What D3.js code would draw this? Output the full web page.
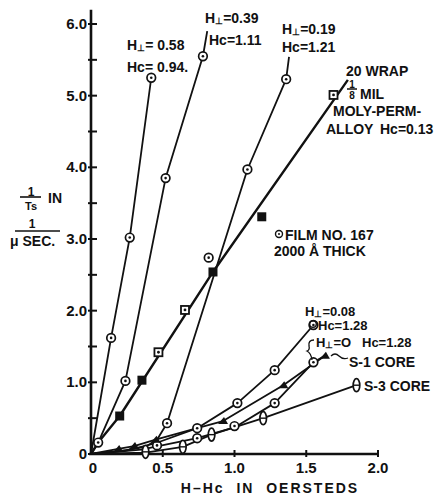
<!DOCTYPE html>
<html><head><meta charset="utf-8">
<script src="https://cdn.jsdelivr.net/npm/d3@7"></script>
<style>
html,body{margin:0;padding:0;background:#fff;}
svg text{font-family:"Liberation Sans",Arial,sans-serif;font-weight:bold;fill:#111;white-space:pre;}
</style></head>
<body><svg id="c" width="437" height="502"></svg>
<script>
// ---- axis ticks ----
const yMajor = [0,1,2,3,4,5,6];
const yLabels = ["0","1.0","2.0","3.0","4.0","5.0","6.0"];
const yMinor = [0.5,1.5,2.5,3.5,4.5,5.5];
const xTicks = [0,0.5,1,1.5,2];
const xLabels = ["0","0.5","1.0","1.5","2.0"];

// ---- series: line vertices and markers ([H-Hc, 1/Ts]) ----
const h058Line = [[0,0],[0.14,1.62],[0.27,3.02],[0.42,5.25]];
const h058Pts  = [[0.14,1.62],[0.27,3.02],[0.42,5.25]];
const h039Line = [[0,0],[0.05,0.16],[0.24,1.02],[0.52,3.85],[0.78,5.55],[0.81,5.9]];
const h039Pts  = [[0.05,0.16],[0.24,1.02],[0.52,3.85],[0.78,5.55]];
const h019Line = [[0,0],[0.2,0.04],[0.38,0.1],[0.46,0.2],[0.53,0.43],[1.09,3.97],[1.36,5.23],[1.38,5.54]];
const h019Pts  = [[0.53,0.43],[0.82,2.74],[1.09,3.97],[1.36,5.23]];
const molyLine = [[0,0],[0.05,0.16],[0.20,0.53],[0.85,2.54],[1.79,5.22]];
const molyFilled = [[0.20,0.53],[0.355,1.03],[0.85,2.54],[1.19,3.31]];
const molyOpen   = [[0.47,1.42],[0.655,2.01],[1.69,5.01]];
const h008Line = [[0,0],[0.25,0.05],[0.45,0.15],[0.74,0.36],[1.02,0.71],[1.28,1.17],[1.55,1.80]];
const h008Pts  = [[0.74,0.36],[1.02,0.71],[1.28,1.17],[1.55,1.80]];
const s1Line = [[0,0],[0.19,0.07],[0.3,0.11],[0.45,0.2],[0.74,0.36],[0.92,0.46],[1.34,0.96],[1.63,1.37]];
const s1Pts  = [[0.19,0.07],[0.3,0.11],[0.45,0.2],[0.92,0.46],[1.34,0.96],[1.63,1.37]];
const h0Line = [[0,0],[0.35,0.06],[0.74,0.22],[1.0,0.37],[1.28,0.71],[1.55,1.28],[1.63,1.37]];
const h0Pts  = [[0.46,0.12],[0.74,0.22],[1.0,0.39],[1.28,0.71],[1.55,1.28]];
const s3Line = [[0,0],[0.38,0.02],[0.64,0.1],[0.84,0.27],[1.2,0.5],[1.85,0.96]];
const s3Pts  = [[0.38,0.03],[0.64,0.1],[0.84,0.27],[1.2,0.5],[1.85,0.96]];

const svg = d3.select("#c");
const x = d3.scaleLinear().domain([0,2]).range([91,378]);
const y = d3.scaleLinear().domain([0,6]).range([454,24]);
const line = d3.line().x(d=>x(d[0])).y(d=>y(d[1]));

// axes
svg.append("line").attr("x1",x(0)).attr("x2",x(0)).attr("y1",y(0)+1).attr("y2",y(6.2))
  .attr("stroke","#111").attr("stroke-width",2.6);
svg.append("line").attr("x1",x(0)-2).attr("x2",x(2)).attr("y1",y(0)).attr("y2",y(0))
  .attr("stroke","#111").attr("stroke-width",2.6);
svg.selectAll(".ytk").data(yMajor.concat(yMinor)).enter().append("line")
  .attr("x1",x(0)-3).attr("x2",x(0)+6).attr("y1",d=>y(d)).attr("y2",d=>y(d))
  .attr("stroke","#111").attr("stroke-width",2);
svg.selectAll(".xtk").data(xTicks.slice(1)).enter().append("line")
  .attr("x1",d=>x(d)).attr("x2",d=>x(d)).attr("y1",y(0)-4).attr("y2",y(0)+3)
  .attr("stroke","#111").attr("stroke-width",2);
svg.selectAll(".ylb").data(yMajor).enter().append("text")
  .attr("x",x(0)-4).attr("y",d=>y(d)+5).attr("text-anchor","end")
  .attr("font-size",15).text((d,i)=>yLabels[i]);
svg.selectAll(".xlb").data(xTicks).enter().append("text")
  .attr("x",d=>x(d)+(d===0?2:0)).attr("y",y(0)+19).attr("text-anchor","middle")
  .attr("font-size",15).text((d,i)=>xLabels[i]);
svg.append("text").attr("x",270).attr("y",493).attr("text-anchor","middle")
  .attr("font-size",14).attr("letter-spacing",2).text("H\u2013Hc  IN  OERSTEDS");

// y label
const yl = svg.append("g");
yl.append("text").attr("x",31).attr("y",196).attr("font-size",12).attr("text-anchor","middle").text("1");
yl.append("line").attr("x1",20).attr("x2",41).attr("y1",197).attr("y2",197).attr("stroke","#111").attr("stroke-width",1.6);
yl.append("text").attr("x",31).attr("y",210).attr("font-size",11).attr("text-anchor","middle").text("Ts");
yl.append("text").attr("x",48).attr("y",203).attr("font-size",14).text("IN");
yl.append("text").attr("x",32).attr("y",228).attr("font-size",12).attr("text-anchor","middle").text("1");
yl.append("line").attr("x1",15).attr("x2",60).attr("y1",231).attr("y2",231).attr("stroke","#111").attr("stroke-width",1.6);
yl.append("text").attr("x",10).attr("y",246).attr("font-size",14).text("\u03bc SEC.");

// lines
[h058Line,h039Line,h019Line,molyLine,h008Line,s1Line,h0Line,s3Line].forEach(L=>{
  svg.append("path").attr("d",line(L)).attr("fill","none").attr("stroke","#111")
    .attr("stroke-width",L===molyLine?2.4:1.8).attr("stroke-linejoin","round");
});

// markers
function circles(pts){
  const g = svg.append("g");
  g.selectAll("circle.o").data(pts).enter().append("circle")
    .attr("cx",d=>x(d[0])).attr("cy",d=>y(d[1])).attr("r",4.3)
    .attr("fill","#fff").attr("stroke","#111").attr("stroke-width",1.7);
  g.selectAll("circle.i").data(pts).enter().append("circle")
    .attr("cx",d=>x(d[0])).attr("cy",d=>y(d[1])).attr("r",1.3).attr("fill","#111");
}
[h058Pts,h039Pts,h019Pts,h008Pts,h0Pts].forEach(circles);
svg.selectAll("rect.f").data(molyFilled).enter().append("rect")
  .attr("x",d=>x(d[0])-4.5).attr("y",d=>y(d[1])-4.5).attr("width",9).attr("height",9).attr("fill","#111");
svg.selectAll("rect.o").data(molyOpen).enter().append("rect")
  .attr("x",d=>x(d[0])-4).attr("y",d=>y(d[1])-4).attr("width",8).attr("height",8)
  .attr("fill","#fff").attr("stroke","#111").attr("stroke-width",1.8);
svg.selectAll("circle.mo").data(molyOpen).enter().append("circle")
  .attr("cx",d=>x(d[0])).attr("cy",d=>y(d[1])).attr("r",1.4).attr("fill","#111");
svg.selectAll("path.tri").data(s1Pts).enter().append("path")
  .attr("d",d=>{const cx=x(d[0]),cy=y(d[1]);return `M${cx-5},${cy+3}L${cx+5},${cy+3}L${cx+1},${cy-4}Z`;})
  .attr("fill","#111");
svg.selectAll("ellipse.s3").data(s3Pts).enter().append("ellipse")
  .attr("cx",d=>x(d[0])).attr("cy",d=>y(d[1])).attr("rx",3.3).attr("ry",6.5)
  .attr("fill","#fff").attr("stroke","#111").attr("stroke-width",1.7);
svg.selectAll("line.s3").data(s3Pts).enter().append("line")
  .attr("x1",d=>x(d[0])-3).attr("x2",d=>x(d[0])+3).attr("y1",d=>y(d[1])).attr("y2",d=>y(d[1]))
  .attr("stroke","#111").attr("stroke-width",1.4);

// annotations
function hperp(xp,yp,val,fs){
  const t = svg.append("text").attr("x",xp).attr("y",yp).attr("font-size",fs||14);
  t.append("tspan").text("H");
  t.append("tspan").attr("font-size",9).attr("dy",1).text("\u22a5");
  t.append("tspan").attr("dy",-1).text(val);
}
hperp(127,50,"= 0.58");
svg.append("text").attr("x",127).attr("y",72).attr("font-size",14).text("Hc= 0.94.");
hperp(205,23,"=0.39");
svg.append("text").attr("x",209).attr("y",45).attr("font-size",14).text("Hc=1.11");
hperp(282,34,"=0.19");
svg.append("text").attr("x",282).attr("y",52).attr("font-size",14).text("Hc=1.21");
svg.append("text").attr("x",346).attr("y",76).attr("font-size",14).text("20 WRAP");
svg.append("text").attr("x",352).attr("y",88).attr("font-size",10).attr("text-anchor","middle").text("1");
svg.append("line").attr("x1",347).attr("x2",357).attr("y1",89).attr("y2",89).attr("stroke","#111").attr("stroke-width",1.5);
svg.append("text").attr("x",352).attr("y",99).attr("font-size",10).attr("text-anchor","middle").text("8");
svg.append("text").attr("x",360).attr("y",99).attr("font-size",14).text("MIL");
svg.append("text").attr("x",333).attr("y",116).attr("font-size",14).text("MOLY-PERM-");
svg.append("text").attr("x",326).attr("y",134).attr("font-size",14).text("ALLOY");
svg.append("text").attr("x",380).attr("y",134).attr("font-size",14).text("Hc=0.13");
svg.append("circle").attr("cx",279).attr("cy",234).attr("r",3.5).attr("fill","none").attr("stroke","#111").attr("stroke-width",1.4);
svg.append("circle").attr("cx",279).attr("cy",234).attr("r",1).attr("fill","#111");
svg.append("text").attr("x",285).attr("y",240).attr("font-size",14).text("FILM NO. 167");
svg.append("text").attr("x",274).attr("y",256).attr("font-size",14).text("2000 \u00c5 THICK");
hperp(305,316,"=0.08",13);
svg.append("circle").attr("cx",313).attr("cy",324).attr("r",3.3).attr("fill","none").attr("stroke","#111").attr("stroke-width",1.4);
svg.append("text").attr("x",318).attr("y",330).attr("font-size",13).text("Hc=1.28");
hperp(316,347,"=O",13);
svg.append("text").attr("x",362).attr("y",347).attr("font-size",13).text("Hc=1.28");
svg.append("path").attr("d","M314,340 q-6,0 -5,6 q1,4 -2,5 q4,2 5,9").attr("fill","none").attr("stroke","#111").attr("stroke-width",1.3);
svg.append("path").attr("d","M331,356 q4,-4 8,0 q4,4 9,2").attr("fill","none").attr("stroke","#111").attr("stroke-width",1.3);
svg.append("text").attr("x",349).attr("y",367).attr("font-size",14).text("S-1 CORE");
svg.append("text").attr("x",364).attr("y",391).attr("font-size",14).text("S-3 CORE");
</script></body></html>
